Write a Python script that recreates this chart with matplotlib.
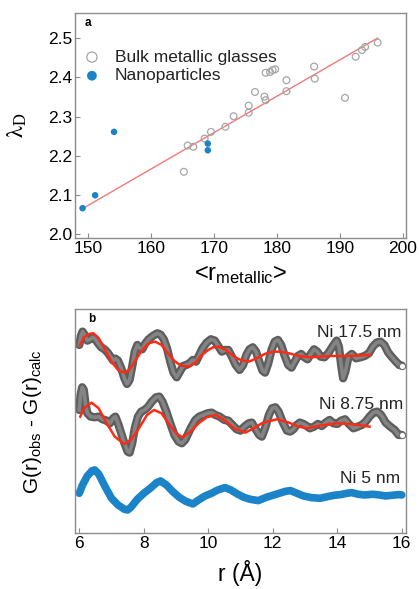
"""
Two panel figure: (a) lambda_D against mean metallic radius for bulk metallic
glasses and Ni nanoparticles, (b) difference PDFs for the Ni nanoparticles.
"""

import numpy as np
import matplotlib
matplotlib.use('Agg')
import matplotlib.pyplot as plt

plt.rcParams['font.family'] = ['Liberation Sans', 'DejaVu Sans']
plt.rcParams['mathtext.fontset'] = 'custom'
plt.rcParams['mathtext.rm'] = 'Liberation Sans'
plt.rcParams['mathtext.it'] = 'Liberation Sans:italic'

# Panel a data.
bmg_r = [165.2, 165.8, 166.7, 168.5, 169.5, 171.8, 173.1, 175.5, 175.5, 176.5,
         178.0, 178.2, 178.2, 178.9, 179.3, 179.7, 181.5, 181.5, 185.9, 186.0,
         190.8, 192.5, 193.5, 194.0, 196.0]
bmg_lam = [2.159, 2.226, 2.223, 2.244, 2.261, 2.274, 2.301, 2.328, 2.310, 2.363,
           2.351, 2.342, 2.412, 2.414, 2.419, 2.421, 2.393, 2.365, 2.428, 2.397,
           2.348, 2.453, 2.470, 2.478, 2.489]

np_r = [149.1, 151.1, 154.1, 169.0, 169.0]
np_lam = [2.066, 2.099, 2.261, 2.231, 2.214]

fit_r = [149.0, 196.0]
fit_lam = [2.064, 2.501]

# Panel b data, arbitrary (offset) units.
r_175 = [6.00, 6.05, 6.10, 6.17, 6.25, 6.33, 6.42, 6.50, 6.58, 6.68, 6.78, 6.88,
         6.98, 7.05, 7.12, 7.20, 7.30, 7.40, 7.48, 7.56, 7.64, 7.72, 7.80, 7.88,
         7.95, 8.05, 8.15, 8.28, 8.42, 8.52, 8.62, 8.72, 8.82, 8.92, 9.02, 9.12,
         9.22, 9.32, 9.42, 9.52, 9.62, 9.72, 9.82, 9.95, 10.08, 10.20, 10.32,
         10.42, 10.52, 10.62, 10.72, 10.85, 10.97, 11.08, 11.18, 11.28, 11.38,
         11.48, 11.58, 11.68, 11.76, 11.86, 11.96, 12.06, 12.16, 12.26, 12.36,
         12.48, 12.58, 12.68, 12.78, 12.88, 12.98, 13.08, 13.18, 13.28, 13.38,
         13.48, 13.60, 13.72, 13.85, 13.98, 14.05, 14.12, 14.18, 14.25, 14.35,
         14.45, 14.58, 14.72, 14.85, 14.98, 15.10, 15.22, 15.34, 15.46, 15.58,
         15.70, 15.82, 15.92, 16.00]
g_175 = [5.65, 5.92, 6.05, 5.95, 5.78, 5.82, 5.88, 5.82, 5.70, 5.58, 5.52, 5.42,
         5.28, 5.18, 5.24, 5.18, 4.95, 4.65, 4.48, 4.60, 5.00, 5.45, 5.65, 5.55,
         5.52, 5.70, 5.82, 5.92, 6.00, 5.96, 5.82, 5.55, 5.15, 4.82, 4.68, 4.85,
         5.02, 5.05, 5.10, 5.20, 5.15, 5.35, 5.55, 5.72, 5.82, 5.78, 5.60,
         5.45, 5.50, 5.50, 5.32, 5.05, 4.90, 5.05, 5.35, 5.52, 5.58,
         5.45, 5.15, 4.88, 4.82, 5.10, 5.50, 5.75, 5.80, 5.65, 5.35,
         5.05, 4.97, 5.15, 5.32, 5.38, 5.28, 5.22, 5.38, 5.52, 5.45,
         5.30, 5.28, 5.40, 5.60, 5.78, 5.60, 5.05, 4.65, 4.85, 5.30,
         5.38, 5.25, 5.28, 5.32, 5.40, 5.60, 5.72, 5.75, 5.65, 5.42,
         5.28, 5.15, 5.05, 5.03]

rfit_175 = [6.02, 6.15, 6.30, 6.44, 6.60, 6.80, 7.00, 7.20, 7.39, 7.55, 7.75,
            7.95, 8.15, 8.35, 8.55, 8.75, 8.95, 9.15, 9.40, 9.60, 9.80, 10.00,
            10.15, 10.33, 10.55, 10.80, 11.00, 11.26, 11.50, 11.75, 12.00,
            12.24, 12.50, 12.80, 13.16, 13.50, 13.80, 14.20, 14.60, 15.00]
gfit_175 = [5.65, 5.88, 5.98, 6.00, 5.85, 5.50, 5.15, 4.90, 4.82, 4.90, 5.20,
            5.50, 5.70, 5.75, 5.65, 5.40, 5.17, 5.03, 5.00, 5.12, 5.35, 5.50,
            5.58, 5.60, 5.50, 5.30, 5.20, 5.15, 5.25, 5.38, 5.45,
            5.45, 5.40, 5.32, 5.28, 5.30, 5.32, 5.32, 5.33, 5.35]

r_875 = [6.00, 6.04, 6.09, 6.14, 6.19, 6.25, 6.35, 6.48, 6.60, 6.72, 6.85, 6.95,
         7.05, 7.12, 7.20, 7.30, 7.40, 7.50, 7.56, 7.64, 7.72, 7.82, 7.92, 8.02,
         8.12, 8.25, 8.38, 8.48, 8.58, 8.70, 8.82, 8.95, 9.08, 9.18, 9.28, 9.38,
         9.48, 9.60, 9.72, 9.85, 9.98, 10.10, 10.22, 10.35, 10.50, 10.62, 10.75,
         10.88, 11.00, 11.12, 11.25, 11.35, 11.45, 11.58, 11.66, 11.76, 11.88,
         11.98, 12.08, 12.18, 12.30, 12.44, 12.54, 12.64, 12.74, 12.84, 12.95,
         13.05, 13.15, 13.28, 13.40, 13.52, 13.64, 13.76, 13.88, 14.00, 14.12,
         14.24, 14.36, 14.50, 14.64, 14.76, 14.88, 15.00, 15.12, 15.24, 15.36,
         15.50, 15.64, 15.78, 15.90, 16.00]
g_875 = [3.70, 4.15, 4.38, 4.30, 3.90, 3.60, 3.50, 3.48, 3.50, 3.42, 3.38, 3.30,
         3.45, 3.50, 3.30, 3.00, 2.70, 2.45, 2.42, 2.70, 3.15, 3.50, 3.65, 3.70,
         3.78, 3.95, 4.08, 4.10, 3.95, 3.65, 3.30, 2.95, 2.75, 2.70, 2.80, 3.00,
         3.20, 3.40, 3.50, 3.55, 3.60, 3.62, 3.55, 3.50, 3.40, 3.38, 3.25,
         3.12, 3.08, 3.20, 3.30, 3.32, 3.15, 2.95, 2.90, 3.15, 3.55,
         3.75, 3.78, 3.65, 3.35, 3.08, 3.05, 3.12, 3.25, 3.32, 3.28,
         3.22, 3.15, 3.20, 3.28, 3.22, 3.32, 3.40, 3.30, 3.28, 3.38,
         3.42, 3.28, 3.15, 3.20, 3.25, 3.35, 3.50, 3.62, 3.65, 3.55,
         3.32, 3.20, 3.10, 2.95, 2.95]

rfit_875 = [6.03, 6.15, 6.38, 6.60, 6.85, 7.10, 7.39, 7.60, 7.85, 8.10, 8.32,
            8.55, 8.80, 9.00, 9.20, 9.45, 9.70, 9.95, 10.23, 10.50, 10.80,
            11.15, 11.40, 11.70, 12.13, 12.50, 12.80, 13.06, 13.40, 14.00,
            14.50, 15.00]
gfit_875 = [3.50, 3.75, 3.92, 3.75, 3.30, 2.90, 2.68, 2.80, 3.15, 3.55, 3.70,
            3.60, 3.25, 3.00, 2.88, 3.05, 3.30, 3.48, 3.55, 3.40, 3.15,
            3.02, 3.15, 3.32, 3.42, 3.32, 3.20, 3.15, 3.22, 3.30,
            3.27, 3.20]

r_5 = [6.00, 6.10, 6.25, 6.40, 6.48, 6.60, 6.80, 7.00, 7.20, 7.40, 7.50, 7.60,
       7.80, 8.00, 8.20, 8.40, 8.52, 8.70, 8.90, 9.10, 9.30, 9.52, 9.70, 9.90,
       10.10, 10.30, 10.52, 10.70, 10.90, 11.10, 11.30, 11.55, 11.80, 12.00,
       12.20, 12.40, 12.55, 12.75, 12.95, 13.20, 13.47, 13.70, 13.90, 14.10,
       14.30, 14.45, 14.65, 14.85, 15.10, 15.30, 15.50, 15.70, 15.90, 16.00]
g_5 = [1.20, 1.45, 1.72, 1.88, 1.90, 1.78, 1.40, 1.05, 0.85, 0.72, 0.70, 0.78,
       1.02, 1.20, 1.35, 1.52, 1.57, 1.45, 1.25, 1.08, 0.96, 0.88, 1.00, 1.12,
       1.20, 1.30, 1.37, 1.30, 1.18, 1.08, 1.02, 0.98, 1.08, 1.14,
       1.20, 1.26, 1.28, 1.20, 1.12, 1.07, 1.05, 1.10, 1.14, 1.16,
       1.20, 1.22, 1.17, 1.15, 1.17, 1.15, 1.12, 1.14, 1.16, 1.15]

labels = ['Ni 17.5 nm', 'Ni 8.75 nm', 'Ni 5 nm']

spinecol = '#8c8c8c'
blue = '#1b84c8'


def style_axes(ax):
    for s in ax.spines.values():
        s.set_color(spinecol)
        s.set_linewidth(1.0)
    ax.tick_params(direction='in', length=3.5, width=0.8, color=spinecol,
                   labelsize=12.5, pad=2, top=False, right=False)


fig = plt.figure(figsize=(4.19, 5.89), dpi=100)

# Panel a
ax1 = fig.add_axes([0.179, 0.5954, 0.790, 0.382])
style_axes(ax1)
ax1.plot(fit_r, fit_lam, color='#f07a7a', lw=1.0, zorder=1)
ax1.scatter(bmg_r, bmg_lam, s=24, facecolors='none', edgecolors='#a6a6a6',
            linewidths=0.9, label='Bulk metallic glasses', zorder=2)
ax1.scatter(np_r, np_lam, s=22, color=blue, edgecolors='none',
            label='Nanoparticles', zorder=3)
ax1.set_xlim(147.9, 200.5)
ax1.set_ylim(1.989, 2.564)
ax1.set_xticks(np.arange(150, 201, 10))
ax1.set_yticks(np.arange(2.0, 2.51, 0.1))
ax1.set_yticklabels(['%.1f' % v for v in np.arange(2.0, 2.51, 0.1)])
ax1.set_xlabel(r'<r$_\mathrm{metallic}$>', fontsize=17)
ax1.xaxis.set_label_coords(0.5, -0.11)
ax1.set_ylabel(r'$\mathrm{\lambda}_\mathrm{D}$', fontsize=17,
               math_fontfamily='stix')
ax1.yaxis.set_label_coords(-0.14, 0.5)
ax1.text(0.03, 0.955, 'a', transform=ax1.transAxes, fontsize=8.5,
         fontweight='bold', va='center', ha='left')
leg = ax1.legend(loc='upper left', bbox_to_anchor=(0.0, 0.87), frameon=False,
                 fontsize=12.5, markerscale=1.5, handletextpad=0.75,
                 labelspacing=0.2, borderaxespad=0.0, handlelength=1.15)
for t in leg.get_texts():
    t.set_color('#222222')

# Panel b
ax2 = fig.add_axes([0.179, 0.0946, 0.789, 0.3803])
style_axes(ax2)
ax2.tick_params(axis='y', left=False, labelleft=False)

for rr, gg in [(r_175, g_175), (r_875, g_875)]:
    ax2.plot(rr, gg, color='#5e5e5e', lw=6.0, solid_capstyle='round',
             solid_joinstyle='round', zorder=1)
    ax2.plot(rr, gg, color='#8e8e8e', lw=2.6, solid_joinstyle='round',
             alpha=0.8, zorder=2)
    ax2.plot(rr[-1], gg[-1], 'o', ms=4.5, mfc='white', mec='#707070',
             mew=0.8, zorder=3)

ax2.plot(rfit_175, gfit_175, color='#ff2a14', lw=1.8, zorder=4)
ax2.plot(rfit_875, gfit_875, color='#ff2a14', lw=1.8, zorder=4)
ax2.plot(r_5, g_5, color=blue, lw=5.5, solid_capstyle='round',
         solid_joinstyle='round', zorder=1)

ax2.text(16.0, 6.01, labels[0], ha='right', va='center', fontsize=12.5,
         color='#222222')
ax2.text(16.04, 3.85, labels[1], ha='right', va='center', fontsize=12.5,
         color='#222222')
ax2.text(15.95, 1.65, labels[2], ha='right', va='center', fontsize=12.5,
         color='#222222')
ax2.text(0.04, 0.955, 'b', transform=ax2.transAxes, fontsize=8.5,
         fontweight='bold', va='center', ha='left')

ax2.set_xlim(5.867, 16.118)
ax2.set_ylim(0, 6.72)
ax2.set_xticks(np.arange(6, 17, 2))
ax2.set_xlabel('r (Å)', fontsize=16.5)
ax2.xaxis.set_label_coords(0.5, -0.12)
ax2.set_ylabel(r'G(r)$_\mathrm{obs}$ - G(r)$_\mathrm{calc}$', fontsize=15)
ax2.yaxis.set_label_coords(-0.095, 0.5)

fig.savefig('out.png', dpi=100)
